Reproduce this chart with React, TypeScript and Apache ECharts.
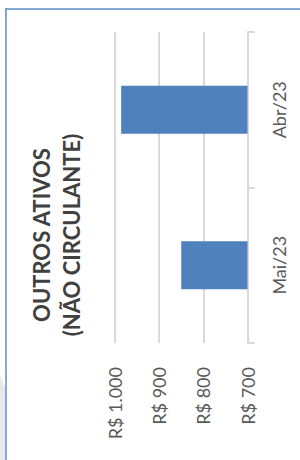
import React, { useEffect, useRef } from "react";
import * as echarts from "echarts";

const categories = ["Abr/23", "Mai/23"];
const values = [986, 850];
const axisMin = 700;
const axisMax = 1000;
const axisStep = 100;
const titleLines = ["OUTROS ATIVOS", "(NÃO CIRCULANTE)"];

const fmt = (v: number) =>
  "R$ " + v.toLocaleString("pt-BR", { maximumFractionDigits: 0 }).replace(/,/g, ".");

export default function App() {
  const ref = useRef<HTMLDivElement>(null);
  useEffect(() => {
    if (!ref.current) return;
    const chart = echarts.init(ref.current, null, { renderer: "svg" });
    chart.setOption({
      animation: false,
      backgroundColor: "#ffffff",
      textStyle: { fontFamily: "Lato" },
      grid: { left: 115, right: 52.5, top: 32, bottom: 117, containLabel: false },
      xAxis: {
        type: "value",
        inverse: true,
        min: axisMin,
        max: axisMax,
        interval: axisStep,
        position: "bottom",
        axisLine: { show: false },
        axisTick: { show: false },
        splitLine: { show: true, lineStyle: { color: "#d9d9d9", width: 2 } },
        axisLabel: {
          rotate: 90,
          margin: 24,
          fontSize: 18,
          color: "#595959",
          fontFamily: "Lato",
          formatter: (v: number) => {
            const s = String(v);
            return "R$ " + (v >= 1000 ? s.slice(0, s.length - 3) + "." + s.slice(-3) : s);
          },
        },
      },
      yAxis: {
        type: "category",
        data: categories,
        inverse: true,
        position: "right",
        axisLine: { show: true, lineStyle: { color: "#d9d9d9", width: 2 } },
        axisTick: { show: true, length: 7, lineStyle: { color: "#d9d9d9", width: 2 } },
        axisLabel: {
          rotate: 90,
          margin: 22,
          fontSize: 18,
          color: "#595959",
          fontFamily: "Lato",
        },
        splitLine: { show: false },
      },
      series: [
        {
          type: "bar",
          data: values,
          barWidth: 48,
          itemStyle: { color: "#4f81bd" },
        },
      ],
      graphic: [
        {
          type: "polygon",
          shape: { points: [[0, 375], [5, 388], [5, 460], [0, 460]] },
          style: { fill: "#e8e8e8" },
          silent: true,
        },
        {
          type: "line",
          shape: { x1: 5, y1: 9, x2: 300, y2: 9 },
          style: { stroke: "#5b8cc9", lineWidth: 1.5 },
          silent: true,
        },
        {
          type: "line",
          shape: { x1: 6, y1: 9, x2: 6, y2: 460 },
          style: { stroke: "#5b8cc9", lineWidth: 1.5 },
          silent: true,
        },
        {
          type: "text",
          x: 56,
          y: 235,
          rotation: Math.PI / 2,
          style: {
            text: titleLines.join("\n"),
            fontFamily: "Lato",
            fontWeight: "bold",
            fontSize: 22,
            lineHeight: 30,
            fill: "#404040",
            align: "center",
            verticalAlign: "middle",
          },
          silent: true,
        },
      ],
    });
    return () => chart.dispose();
  }, []);
  return (
    <div
      ref={ref}
      style={{ position: "fixed", left: 0, top: 0, width: 300, height: 460 }}
    />
  );
}
